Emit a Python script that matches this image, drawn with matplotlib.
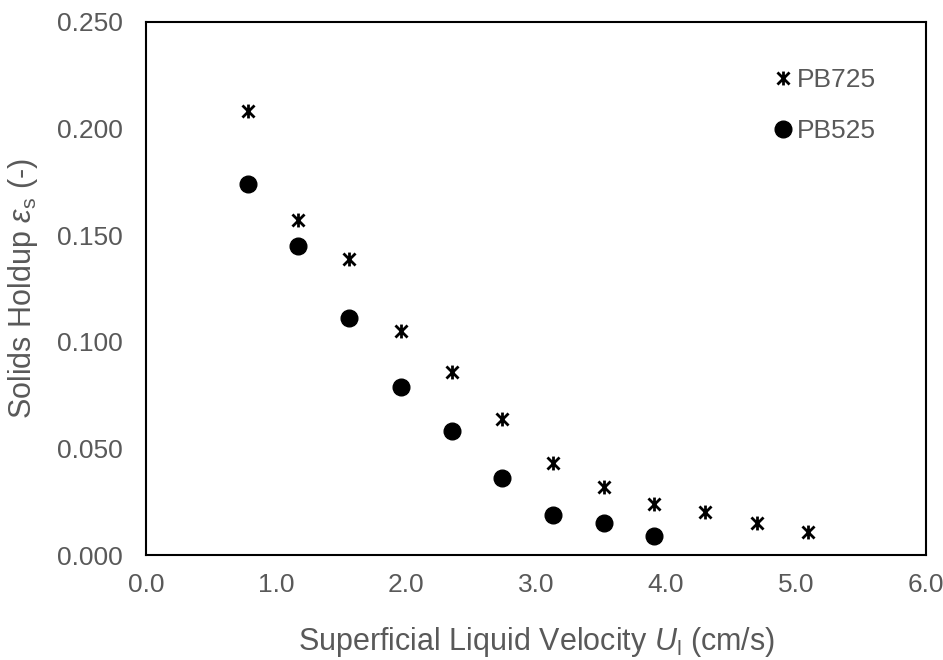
import matplotlib
matplotlib.use("Agg")
import matplotlib.pyplot as plt
from matplotlib.path import Path

plt.rcParams['font.family'] = ['Liberation Sans', 'DejaVu Sans']
plt.rcParams['mathtext.fontset'] = 'custom'
plt.rcParams['mathtext.rm'] = 'Liberation Sans'
plt.rcParams['mathtext.it'] = 'Liberation Sans:italic'

# Data
x_pb725 = [0.78, 1.17, 1.56, 1.96, 2.35, 2.74, 3.13, 3.52, 3.91, 4.30, 4.70, 5.09]
y_pb725 = [0.208, 0.157, 0.139, 0.105, 0.086, 0.064, 0.043, 0.032, 0.024, 0.020, 0.015, 0.011]
x_pb525 = [0.78, 1.17, 1.56, 1.96, 2.35, 2.74, 3.13, 3.52, 3.91]
y_pb525 = [0.174, 0.145, 0.111, 0.079, 0.058, 0.036, 0.019, 0.015, 0.009]
x_ticks = [0.0, 1.0, 2.0, 3.0, 4.0, 5.0, 6.0]
y_ticks = [0.000, 0.050, 0.100, 0.150, 0.200, 0.250]

gray = '#595959'
fs = 19
fs_lab = 22

star = Path([(-1, -1), (1, 1), (-1, 1), (1, -1), (0, -1.15), (0, 1.15)],
            [Path.MOVETO, Path.LINETO, Path.MOVETO, Path.LINETO, Path.MOVETO, Path.LINETO])

fig = plt.figure(figsize=(9.43, 6.6), dpi=100)
ax = fig.add_axes([0.155, 0.159, 0.827, 0.808])

ax.plot(x_pb725, y_pb725, linestyle='none', marker=star, markersize=10,
        markeredgewidth=2.0, color='black', label='PB725')
ax.plot(x_pb525, y_pb525, linestyle='none', marker='o', markersize=12,
        color='black', label='PB525')

ax.set_xlim(0, 6.0)
ax.set_ylim(0, 0.25)
ax.set_xticks(x_ticks)
ax.set_xticklabels([f'{v:.1f}' for v in x_ticks])
ax.set_yticks(y_ticks)
ax.set_yticklabels([f'{v:.3f}' for v in y_ticks])
ax.tick_params(axis='y', length=0, labelsize=fs, labelcolor=gray, pad=17)
ax.tick_params(axis='x', length=0, labelsize=fs, labelcolor=gray, pad=13)
for s in ax.spines.values():
    s.set_linewidth(1.5)
    s.set_color('black')

ax.set_xlabel(r'Superficial Liquid Velocity $\mathit{U}_\mathrm{l}$ (cm/s)',
              fontsize=fs_lab, color=gray, labelpad=20)
ax.set_ylabel(r'Solids Holdup $\mathit{\varepsilon}_\mathrm{s}$ (-)',
              fontsize=fs_lab, color=gray, labelpad=12)

leg = ax.legend(loc='upper left', frameon=False, fontsize=fs, handlelength=0.8,
                handletextpad=0.13, labelspacing=1.01, borderaxespad=0, borderpad=0,
                bbox_to_anchor=(0.803, 0.913))
for t in leg.get_texts():
    t.set_color(gray)

fig.savefig('out.png', dpi=100)
